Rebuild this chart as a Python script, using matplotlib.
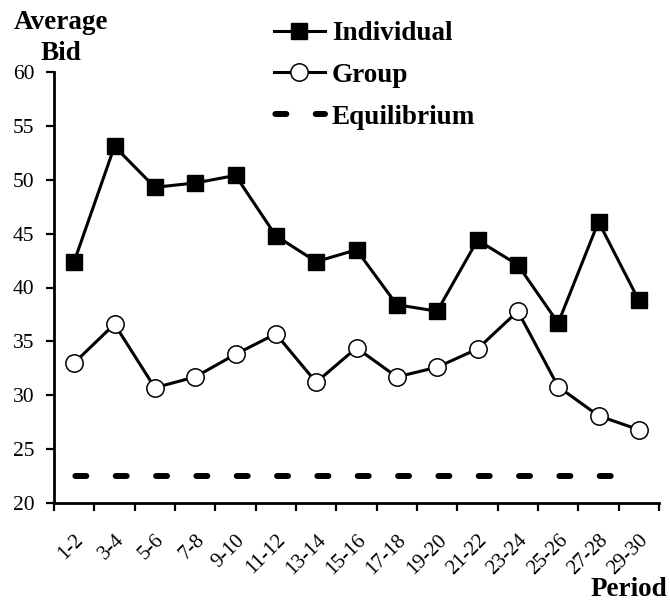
import matplotlib
matplotlib.use("Agg")
import matplotlib.pyplot as plt
import matplotlib.transforms as mtransforms
import numpy as np

periods = ["1-2", "3-4", "5-6", "7-8", "9-10", "11-12", "13-14", "15-16",
           "17-18", "19-20", "21-22", "23-24", "25-26", "27-28", "29-30"]
individual = [42.4, 53.1, 49.3, 49.7, 50.4, 44.8, 42.4, 43.5,
              38.4, 37.8, 44.4, 42.1, 36.7, 46.1, 38.8]
group = [33.0, 36.6, 30.7, 31.7, 33.8, 35.7, 31.2, 34.4,
         31.7, 32.6, 34.3, 37.8, 30.8, 28.1, 26.8]
equilibrium = [22.5] * len(periods)

plt.rcParams['font.family'] = ['Liberation Serif', 'DejaVu Serif']
plt.rcParams['lines.scale_dashes'] = False

W, H = 670, 604
fig = plt.figure(figsize=(W / 100, H / 100), dpi=100)
ax = fig.add_axes([54 / W, 1 - 503 / H, 605 / W, 431 / H])

x = np.arange(len(periods))
ax.plot(x, individual, color='black', lw=2.2, marker='s', markersize=11,
        markerfacecolor='black', markeredgecolor='black', label='Individual')
ax.plot(x, group, color='black', lw=2.2, marker='o', markersize=12.5,
        markerfacecolor='white', markeredgecolor='black', markeredgewidth=1.1,
        label='Group')

ax.set_xlim(-0.5, len(periods) - 0.5)
ax.set_ylim(20, 60)

# dash period equal to one category width
fig.canvas.draw()
bb = ax.get_window_extent()
step_pt = float(bb.width / len(periods) * 72 / fig.dpi)
lw_eq = 4.3
on = 0.42 * step_pt - lw_eq
off = step_pt - on
eq_line, = ax.plot(x, equilibrium, color='black', lw=lw_eq,
                   dash_capstyle='round', label='Equilibrium')
eq_line.set_linestyle((step_pt - 1.0, (on, off)))

ax.set_yticks(np.arange(20, 61, 5))
ax.set_xticks(np.arange(-0.5, len(periods), 1.0))
ax.set_xticklabels([])
ax.set_xticks(x, minor=True)
ax.set_xticklabels(periods, minor=True, rotation=45, ha='right',
                   rotation_mode='anchor', fontsize=15)
shift = mtransforms.ScaledTranslation(2 / 72, 0, fig.dpi_scale_trans)
for lab in ax.get_xticklabels(minor=True):
    lab.set_transform(lab.get_transform() + shift)
ax.tick_params(axis='x', which='minor', length=0, pad=20)
ax.tick_params(axis='x', which='major', length=6, width=1.6, direction='out')
ax.tick_params(axis='y', length=6, width=1.6, direction='out', labelsize=15.5, pad=8)

for s in ['top', 'right']:
    ax.spines[s].set_visible(False)
for s in ['left', 'bottom']:
    ax.spines[s].set_linewidth(2.0)

leg = ax.legend(loc='upper left', bbox_to_anchor=(274 / W, 1 - 21 / H),
                bbox_transform=fig.transFigure,
                frameon=False, prop={'weight': 'bold', 'size': 19.5},
                handlelength=1.88, handletextpad=0.26, labelspacing=0.62,
                borderpad=0, borderaxespad=0)

fig.text(61 / W, 1 - 29 / H, "Average", ha='center', va='baseline',
         fontsize=19.5, fontweight='bold')
fig.text(61 / W, 1 - 60 / H, "Bid", ha='center', va='baseline',
         fontsize=19.5, fontweight='bold')
fig.text(667 / W, 1 - 596 / H, "Period", ha='right', va='baseline',
         fontsize=19.5, fontweight='bold')

fig.savefig("out.png", dpi=100)
